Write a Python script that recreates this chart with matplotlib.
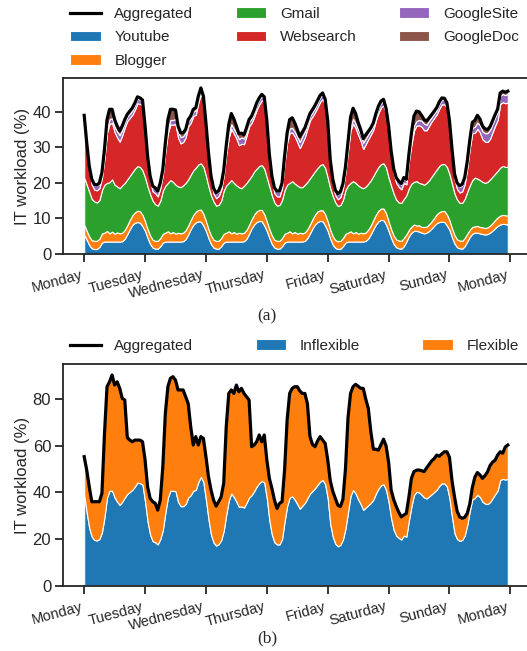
import matplotlib
matplotlib.use('Agg')
import matplotlib.pyplot as plt
import numpy as np

# ---------------- data (hourly, one week) ----------------
hours = np.arange(168)
day_ticks = [0, 24, 48, 72, 96, 120, 144, 168]
day_labels = ['Monday', 'Tuesday', 'Wednesday', 'Thursday', 'Friday',
              'Saturday', 'Sunday', 'Monday']

youtube = [
    5.5, 4.0, 2.5, 1.6, 1.4, 1.4, 2.0, 3.2, 3.5, 3.5, 3.5, 3.5, 3.5, 3.5, 3.5, 3.6, 4.3, 5.6, 7.0, 8.2, 8.8, 9.0, 8.8, 7.8,
    6.5, 4.5, 2.8, 1.8, 1.5, 1.5, 2.2, 3.2, 3.5, 3.5, 3.5, 3.5, 3.5, 3.5, 3.5, 3.6, 4.2, 5.5, 7.0, 8.2, 8.9, 9.2, 9.1, 8.0,
    6.5, 4.5, 2.8, 1.8, 1.5, 1.5, 2.2, 3.2, 3.5, 3.5, 3.5, 3.5, 3.5, 3.5, 3.5, 3.6, 4.3, 5.7, 7.2, 8.3, 9.0, 9.3, 9.2, 8.0,
    6.5, 4.5, 2.8, 1.8, 1.5, 1.5, 2.2, 3.2, 3.5, 3.5, 3.5, 3.5, 3.5, 3.5, 3.5, 3.7, 4.5, 5.8, 7.2, 8.3, 9.0, 9.3, 9.2, 8.0,
    6.5, 4.3, 2.6, 1.7, 1.4, 1.5, 2.2, 3.2, 3.5, 3.5, 3.5, 3.5, 3.5, 3.5, 3.5, 3.7, 4.4, 5.6, 7.0, 8.3, 9.2, 9.6, 9.5, 8.3,
    6.5, 4.5, 2.8, 1.9, 1.6, 1.5, 2.2, 3.5, 5.0, 6.0, 6.5, 6.5, 6.3, 6.0, 5.8, 6.0, 6.5, 7.2, 8.0, 8.7, 9.0, 9.1, 9.0, 8.0,
    6.8, 4.7, 2.9, 1.9, 1.6, 1.5, 2.2, 3.5, 4.8, 5.7, 6.0, 6.0, 5.8, 5.6, 5.5, 5.6, 6.0, 6.6, 7.3, 7.9, 8.3, 8.5, 8.4, 8.3,
]
blogger = [
    2.8, 2.5, 2.4, 2.3, 2.3, 2.3, 2.3, 2.6, 2.5, 3.0, 2.3, 2.8, 2.2, 2.6, 2.3, 2.4, 2.5, 2.5, 2.6, 2.7, 2.9, 3.2, 3.2, 3.2,
    2.7, 2.5, 2.4, 2.2, 2.2, 2.2, 2.3, 2.5, 2.5, 2.9, 2.3, 2.7, 2.2, 2.5, 2.3, 2.4, 2.5, 2.5, 2.6, 2.8, 3.0, 3.2, 3.4, 3.3,
    2.8, 2.5, 2.4, 2.2, 2.2, 2.2, 2.3, 2.5, 2.5, 2.9, 2.3, 2.7, 2.2, 2.5, 2.3, 2.4, 2.5, 2.5, 2.6, 2.8, 3.0, 3.1, 3.2, 3.2,
    2.7, 2.5, 2.4, 2.2, 2.2, 2.2, 2.3, 2.5, 2.5, 2.9, 2.3, 2.7, 2.2, 2.5, 2.3, 2.4, 2.5, 2.5, 2.6, 2.8, 3.0, 3.0, 3.1, 3.2,
    2.7, 2.5, 2.4, 2.2, 2.2, 2.2, 2.3, 2.5, 2.5, 2.9, 2.3, 2.7, 2.2, 2.5, 2.3, 2.4, 2.5, 2.5, 2.6, 2.8, 3.0, 3.2, 3.3, 3.2,
    2.7, 2.5, 2.4, 2.2, 2.2, 2.2, 2.3, 2.0, 1.8, 1.7, 1.8, 1.5, 1.8, 1.6, 1.8, 1.7, 1.9, 2.0, 2.2, 2.5, 2.8, 3.0, 3.1, 3.1,
    2.7, 2.5, 2.4, 2.2, 2.2, 2.2, 2.3, 2.2, 2.0, 1.9, 1.8, 1.9, 1.8, 1.9, 1.8, 1.9, 2.0, 2.1, 2.3, 2.4, 2.5, 2.5, 2.5, 2.5,
]
gmail = [
    13.2, 13.0, 12.6, 11.6, 11.1, 10.8, 10.9, 12.2, 13.5, 13.5, 14.4, 14.7, 13.8, 12.9, 12.7, 13.3, 13.2, 12.9, 12.4, 12.1, 12.3, 12.5, 12.5, 12.5,
    12.3, 12.0, 11.6, 11.0, 10.3, 9.9, 10.5, 12.1, 13.2, 13.6, 15.0, 14.1, 13.8, 13.0, 13.0, 13.3, 13.3, 13.0, 12.7, 12.5, 12.4, 12.8, 13.0, 13.2,
    12.7, 12.0, 11.3, 10.8, 9.9, 10.1, 10.5, 12.1, 13.3, 13.6, 15.0, 13.8, 13.6, 12.8, 12.7, 13.2, 13.2, 12.8, 12.2, 12.1, 12.0, 12.4, 12.6, 12.8,
    12.3, 12.0, 11.3, 10.5, 9.9, 10.1, 10.7, 12.3, 13.5, 13.6, 14.7, 13.6, 13.6, 12.8, 13.0, 13.4, 13.3, 13.0, 12.5, 12.2, 12.2, 12.7, 13.0, 13.0,
    12.3, 11.7, 11.3, 10.6, 9.9, 10.1, 10.7, 12.3, 13.3, 13.6, 14.7, 13.8, 13.6, 12.8, 12.7, 12.9, 12.9, 12.7, 12.4, 12.2, 12.3, 12.5, 12.7, 12.8,
    12.3, 12.2, 11.8, 11.2, 10.7, 10.7, 11.0, 11.0, 11.7, 12.1, 12.0, 12.5, 11.9, 12.2, 11.9, 12.3, 12.4, 12.6, 12.6, 12.6, 13.0, 13.2, 13.2, 13.4,
    13.0, 12.6, 11.7, 11.2, 10.6, 10.7, 11.0, 11.8, 12.5, 13.2, 13.7, 13.3, 13.2, 12.8, 12.7, 12.8, 13.0, 13.1, 13.0, 13.1, 13.5, 13.8, 13.6, 13.7,
]
websearch = [
    16.3, 10.6, 5.9, 4.0, 3.3, 3.4, 3.3, 3.4, 7.4, 14.1, 16.4, 15.9, 14.8, 13.8, 13.1, 14.1, 15.6, 16.4, 16.3, 16.2, 16.6, 17.7, 17.7, 18.4,
    13.3, 7.3, 3.8, 2.6, 3.1, 2.6, 3.5, 4.5, 9.6, 14.1, 15.6, 16.1, 17.0, 13.8, 12.3, 12.2, 12.8, 14.9, 14.6, 15.3, 14.9, 17.4, 19.5, 18.5,
    13.7, 8.3, 4.1, 2.2, 2.1, 2.5, 3.0, 4.2, 8.7, 12.8, 14.4, 13.9, 13.2, 11.8, 12.5, 11.7, 13.3, 14.9, 14.9, 15.4, 16.6, 17.3, 18.2, 18.8,
    14.8, 7.8, 4.1, 2.6, 2.6, 2.4, 3.3, 7.7, 11.8, 14.1, 13.7, 13.3, 12.2, 11.0, 12.5, 13.4, 15.0, 16.3, 16.4, 16.6, 17.1, 17.8, 18.3, 17.9,
    14.8, 6.8, 3.4, 2.0, 1.9, 2.2, 3.1, 5.0, 9.7, 14.8, 16.2, 15.4, 14.2, 13.0, 11.0, 11.9, 12.5, 12.8, 13.0, 14.3, 15.2, 15.9, 16.3, 15.3,
    13.3, 8.6, 5.7, 4.7, 4.4, 3.8, 4.5, 3.1, 7.5, 11.0, 14.4, 15.6, 16.2, 16.0, 15.3, 14.8, 15.3, 15.5, 15.5, 15.5, 16.1, 16.8, 16.8, 16.6,
    13.7, 8.4, 4.0, 3.0, 2.9, 3.2, 4.1, 6.6, 10.3, 13.2, 12.6, 14.0, 13.4, 12.0, 11.6, 11.2, 11.4, 12.5, 13.5, 14.3, 17.9, 17.9, 17.9, 18.1,
]
googlesite = [
    0.8, 0.9, 1.0, 1.2, 1.3, 1.3, 1.2, 1.0, 1.0, 1.2, 1.3, 1.3, 1.5, 1.7, 1.8, 1.6, 1.4, 1.2, 1.2, 1.2, 1.3, 1.3, 1.2, 1.0,
    0.8, 0.9, 1.0, 1.2, 1.3, 1.3, 1.2, 1.0, 1.0, 1.2, 1.3, 1.3, 1.5, 1.7, 1.8, 1.6, 1.4, 1.2, 1.2, 1.2, 1.3, 1.3, 1.2, 1.0,
    0.8, 0.9, 1.0, 1.2, 1.3, 1.3, 1.2, 1.0, 1.0, 1.2, 1.3, 1.3, 1.5, 1.7, 1.8, 1.6, 1.4, 1.2, 1.2, 1.2, 1.3, 1.3, 1.2, 1.0,
    0.8, 0.9, 1.0, 1.2, 1.3, 1.3, 1.2, 1.0, 1.0, 1.2, 1.3, 1.3, 1.5, 1.7, 1.8, 1.6, 1.4, 1.2, 1.2, 1.2, 1.3, 1.3, 1.2, 1.0,
    0.8, 0.9, 1.0, 1.2, 1.3, 1.3, 1.2, 1.0, 1.0, 1.2, 1.3, 1.3, 1.5, 1.7, 1.8, 1.6, 1.4, 1.2, 1.2, 1.2, 1.3, 1.3, 1.2, 1.0,
    0.8, 0.9, 1.0, 1.2, 1.3, 1.3, 1.2, 1.0, 1.0, 1.2, 1.3, 1.3, 1.5, 1.7, 1.8, 1.6, 1.4, 1.2, 1.2, 1.2, 1.3, 1.3, 1.2, 1.0,
    0.9, 1.0, 1.2, 1.4, 1.6, 1.7, 1.6, 1.4, 1.4, 1.5, 1.7, 1.8, 2.0, 2.2, 2.4, 2.5, 2.5, 2.4, 2.3, 2.3, 2.3, 2.3, 2.3, 2.4,
]
googledoc = [
    0.4, 0.3, 0.3, 0.3, 0.2, 0.2, 0.3, 0.5, 1.5, 2.5, 2.8, 2.5, 2.0, 1.5, 1.2, 1.0, 0.8, 0.7, 0.7, 0.7, 0.6, 0.5, 0.5, 0.4,
    0.4, 0.3, 0.3, 0.3, 0.2, 0.2, 0.3, 0.5, 1.5, 2.5, 3.0, 3.0, 2.5, 1.5, 1.2, 1.0, 0.8, 0.7, 0.7, 0.7, 0.6, 0.5, 0.5, 0.4,
    0.4, 0.3, 0.3, 0.3, 0.2, 0.2, 0.3, 0.5, 1.5, 2.5, 3.0, 2.8, 2.0, 1.5, 1.2, 1.0, 0.8, 0.7, 0.7, 0.7, 0.6, 0.5, 0.5, 0.4,
    0.4, 0.3, 0.3, 0.3, 0.2, 0.2, 0.3, 0.8, 1.8, 2.5, 2.8, 2.5, 2.0, 1.5, 1.2, 1.0, 0.8, 0.7, 0.7, 0.7, 0.6, 0.5, 0.5, 0.4,
    0.4, 0.3, 0.3, 0.3, 0.2, 0.2, 0.3, 0.5, 1.5, 2.5, 3.0, 2.8, 2.0, 1.5, 1.2, 1.0, 0.8, 0.7, 0.7, 0.7, 0.6, 0.5, 0.5, 0.4,
    0.4, 0.3, 0.3, 0.3, 0.3, 0.3, 0.3, 0.4, 1.0, 2.0, 2.8, 2.8, 2.3, 1.5, 1.2, 1.0, 0.8, 0.7, 0.7, 0.7, 0.6, 0.5, 0.5, 0.4,
    0.4, 0.3, 0.3, 0.3, 0.3, 0.3, 0.3, 0.5, 1.0, 1.5, 1.8, 2.0, 1.8, 1.5, 1.2, 1.0, 0.9, 0.8, 0.8, 0.8, 0.8, 0.8, 0.8, 0.8,
]
# aggregated workload of panel (b) (black line)
aggregated_b = [
    55.3, 49.6, 42.4, 36.0, 36.0, 36.0, 36.0, 39.6, 65.0, 85.3, 87.4, 90.3, 86.0, 87.4, 84.6, 80.3, 79.6, 63.5, 62.4, 61.7, 62.4, 62.4, 62.4, 61.7,
    53.9, 42.4, 37.4, 36.0, 35.3, 32.4, 36.7, 51.0, 73.9, 85.3, 88.9, 89.6, 88.1, 83.9, 83.9, 83.9, 81.0, 78.1, 68.1, 60.3, 63.9, 60.3, 63.9, 63.1,
    55.3, 46.7, 41.0, 36.7, 34.1, 36.0, 38.1, 43.9, 68.1, 82.4, 83.9, 82.4, 86.0, 83.1, 84.6, 82.4, 81.0, 79.6, 59.6, 60.3, 61.7, 64.6, 61.7, 64.6,
    53.9, 46.0, 41.7, 36.7, 33.1, 35.3, 36.0, 49.6, 71.0, 82.4, 84.6, 85.3, 85.3, 83.5, 82.4, 82.4, 78.0, 64.0, 60.5, 59.6, 62.0, 63.9, 62.4, 61.0,
    54.0, 45.0, 40.5, 37.4, 34.5, 33.9, 37.0, 50.0, 72.0, 82.4, 85.3, 86.3, 85.5, 84.6, 84.6, 80.0, 76.0, 66.0, 58.5, 58.5, 58.1, 60.5, 62.8, 60.0,
    53.0, 41.0, 37.0, 34.0, 31.5, 29.5, 30.3, 31.0, 38.0, 46.0, 48.9, 49.5, 49.6, 49.3, 48.9, 50.5, 52.0, 53.5, 54.5, 56.0, 55.5, 56.5, 57.4, 57.4,
    55.0, 45.0, 38.0, 32.0, 29.5, 28.9, 29.3, 31.0, 35.0, 42.0, 46.5, 48.5, 47.5, 46.0, 47.2, 48.8, 51.5, 53.0, 53.8, 56.0, 57.4, 56.8, 59.5, 60.3,
]

services = ['Youtube', 'Blogger', 'Gmail', 'Websearch', 'GoogleSite', 'GoogleDoc']
service_colors = ['#1f77b4', '#ff7f0e', '#2ca02c', '#d62728', '#9467bd', '#8c564b']

layers_a = np.array([youtube, blogger, gmail, websearch, googlesite, googledoc])
aggregated_a = layers_a.sum(axis=0)
# inflexible workload of panel (b) follows the aggregated workload of panel (a)
inflexible = aggregated_a
flexible = np.array(aggregated_b) - inflexible

# ---------------- style ----------------
TXT = '#262626'
plt.rcParams['font.family'] = ['Liberation Sans', 'DejaVu Sans']
plt.rcParams['text.color'] = TXT
plt.rcParams['axes.labelcolor'] = TXT
plt.rcParams['xtick.color'] = TXT
plt.rcParams['ytick.color'] = TXT

W, H = 527, 651
fig = plt.figure(figsize=(W / 100, H / 100), dpi=100)


def style_axes(ax, yticks):
    for s in ax.spines.values():
        s.set_linewidth(1.3)
        s.set_color(TXT)
    ax.spines['right'].set_visible(False)   # lies just outside the cropped figure
    ax.set_xticks(day_ticks)
    ax.set_xticklabels(day_labels, rotation=15, ha='right', fontsize=10.5)
    ax.set_yticks(yticks)
    ax.tick_params(axis='both', direction='out', length=5.5, width=1.3, pad=3)
    ax.tick_params(axis='y', labelsize=12)
    ax.tick_params(axis='x', pad=4.5)
    ax.set_ylabel('IT workload (%)', fontsize=12)
    ax.yaxis.set_label_coords(-33 / 466, 0.5)
    ax.set_xlim(-8.35, 175.35)


# ---------------- panel (a) ----------------
ax1 = fig.add_axes([63 / W, 1 - 254 / H, 466 / W, 176 / H])
polys_a = ax1.stackplot(hours, layers_a, colors=service_colors, labels=services,
                        edgecolor='white', linewidth=0.8)
line_a, = ax1.plot(hours, aggregated_a, color='black', lw=2.3, label='Aggregated')
ax1.set_ylim(0, 49.5)
style_axes(ax1, [0, 10, 20, 30, 40])

fig.legend([line_a] + list(polys_a), ['Aggregated'] + services,
           loc='upper left', bbox_to_anchor=(70 / W, 1 - 7 / H, 449 / W, 0.0),
           mode='expand', ncol=3, frameon=False, borderpad=0, borderaxespad=0,
           handlelength=2.0, handletextpad=0.9, fontsize=11, labelspacing=0.62)

fig.text(267 / W, 1 - 316 / H, '(a)', ha='center', va='center',
         family=['Liberation Serif', 'DejaVu Serif'], fontsize=12.5)

# ---------------- panel (b) ----------------
ax2 = fig.add_axes([63 / W, 1 - 585.7 / H, 466 / W, 221.4 / H])
polys_b = ax2.stackplot(hours, inflexible, flexible, colors=['#1f77b4', '#ff7f0e'],
                        labels=['Inflexible', 'Flexible'], edgecolor='white', linewidth=0.8)
line_b, = ax2.plot(hours, aggregated_b, color='black', lw=2.3, label='Aggregated')
ax2.set_ylim(0, 94.9)
style_axes(ax2, [0, 20, 40, 60, 80])

fig.legend([line_b] + list(polys_b), ['Aggregated', 'Inflexible', 'Flexible'],
           loc='upper left', bbox_to_anchor=(70 / W, 1 - 339 / H, 449 / W, 0.0),
           mode='expand', ncol=3, frameon=False, borderpad=0, borderaxespad=0,
           handlelength=2.0, handletextpad=0.9, fontsize=11)

fig.text(267 / W, 1 - 638 / H, '(b)', ha='center', va='center',
         family=['Liberation Serif', 'DejaVu Serif'], fontsize=12.5)

fig.savefig('out.png', dpi=100)
